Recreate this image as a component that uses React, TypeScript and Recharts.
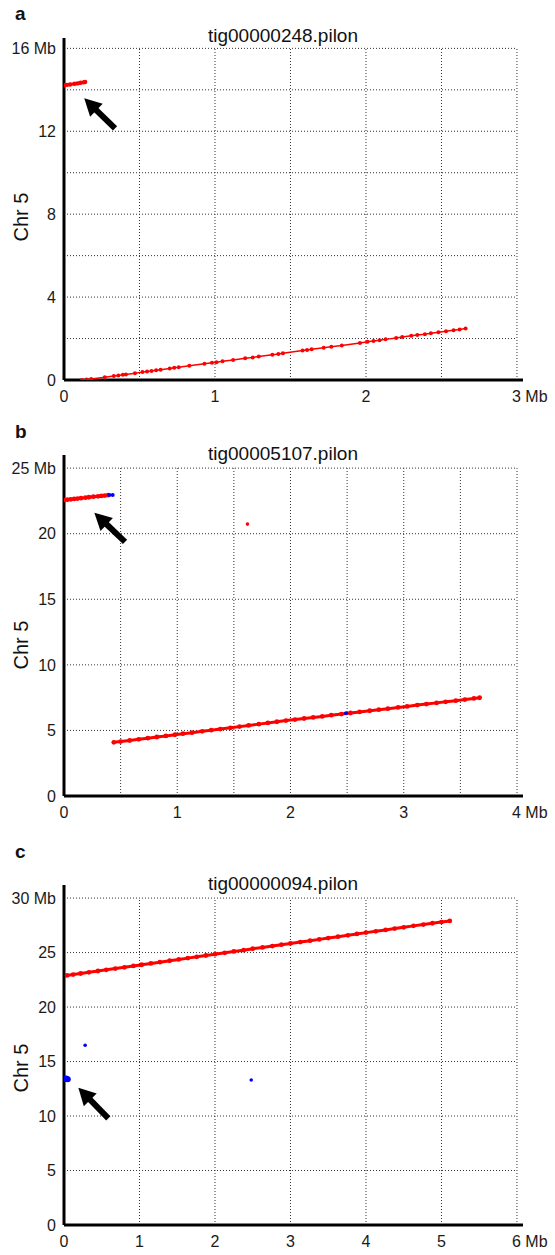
import React from "react";
import { ScatterChart, Scatter, XAxis, YAxis, ReferenceLine } from "recharts";

type Pt = { x: number; y: number };
const pts = (arr: number[][]): Pt[] => arr.map(([x, y]) => ({ x, y }));

const RED = "#ff0000";
const BLUE = "#0000ff";
const FONT = "'Liberation Sans', Arial, sans-serif";

// ---- panel a ----
const aTitle = "tig00000248.pilon";
const aXTicks = [0, 1, 2, 3];
const aYTicks = [0, 4, 8, 12, 16];
const aXGrid = [0.5, 1, 1.5, 2, 2.5, 3];
const aYGrid = [2, 4, 6, 8, 10, 12, 14, 16];
const aRedTop = pts([
  [0.0, 14.22], [0.02, 14.24], [0.04, 14.26], [0.07, 14.29], [0.09, 14.31],
  [0.11, 14.34], [0.13, 14.36], [0.14, 14.38],
]);
const aRedMain = pts([
  [0.12, 0.0], [0.15, 0.02], [0.18, 0.05], [0.27, 0.13], [0.33, 0.19], [0.36, 0.22],
  [0.39, 0.25], [0.41, 0.27], [0.47, 0.33], [0.52, 0.38], [0.55, 0.41], [0.58, 0.44],
  [0.61, 0.47], [0.64, 0.5], [0.7, 0.56], [0.73, 0.59], [0.76, 0.62], [0.83, 0.69],
  [0.93, 0.78], [0.98, 0.83], [1.01, 0.86], [1.05, 0.9], [1.12, 0.97], [1.2, 1.05],
  [1.25, 1.09], [1.29, 1.13], [1.38, 1.22], [1.42, 1.26], [1.45, 1.29], [1.58, 1.42],
  [1.61, 1.45], [1.64, 1.48], [1.72, 1.56], [1.77, 1.6], [1.84, 1.67], [1.96, 1.79],
  [2.01, 1.84], [2.05, 1.88], [2.09, 1.92], [2.13, 1.96], [2.2, 2.03], [2.24, 2.07],
  [2.3, 2.13], [2.34, 2.17], [2.39, 2.21], [2.43, 2.25], [2.48, 2.3], [2.53, 2.35],
  [2.58, 2.4], [2.62, 2.44], [2.66, 2.48],
]);
const aArrow = pts([[0.134, 13.59], [0.338, 12.14]]);

// ---- panel b ----
const bTitle = "tig00005107.pilon";
const bXTicks = [0, 1, 2, 3, 4];
const bYTicks = [0, 5, 10, 15, 20, 25];
const bXGrid = [0.5, 1, 1.5, 2, 2.5, 3, 3.5, 4];
const bYGrid = [5, 10, 15, 20, 25];
const bRedTop = pts([
  [0, 22.56], [0.03, 22.59], [0.06, 22.62], [0.09, 22.65], [0.12, 22.68], [0.15, 22.71],
  [0.19, 22.75], [0.22, 22.78], [0.26, 22.82], [0.3, 22.85], [0.33, 22.88], [0.36, 22.91],
  [0.39, 22.94],
]);
const bBlueTop = pts([[0.4, 22.95], [0.43, 22.95]]);
const bRedSingle = pts([[1.62, 20.73]]);
const bRedMain = pts([
  [0.44, 4.09], [0.5, 4.15], [0.58, 4.23], [0.66, 4.32], [0.74, 4.41], [0.82, 4.5],
  [0.9, 4.58], [0.98, 4.67], [1.05, 4.75], [1.13, 4.83], [1.22, 4.93], [1.3, 5.02],
  [1.38, 5.1], [1.47, 5.2], [1.55, 5.29], [1.63, 5.38], [1.72, 5.48], [1.8, 5.57],
  [1.88, 5.66], [1.96, 5.75], [2.04, 5.83], [2.12, 5.91], [2.2, 5.99], [2.28, 6.07],
  [2.36, 6.16], [2.45, 6.25], [2.53, 6.33], [2.61, 6.41], [2.7, 6.5], [2.78, 6.58],
  [2.86, 6.66], [2.95, 6.75], [3.03, 6.83], [3.12, 6.93], [3.2, 7.01], [3.29, 7.1],
  [3.37, 7.18], [3.46, 7.27], [3.54, 7.35], [3.62, 7.44], [3.67, 7.49],
]);
const bBlueMain = pts([[2.49, 6.3]]);
const bArrow = pts([[0.268, 21.6], [0.539, 19.38]]);

// ---- panel c ----
const cTitle = "tig00000094.pilon";
const cXTicks = [0, 1, 2, 3, 4, 5, 6];
const cYTicks = [0, 5, 10, 15, 20, 25, 30];
const cXGrid = [1, 2, 3, 4, 5, 6];
const cYGrid = [5, 10, 15, 20, 25, 30];
const cRedMain = pts([
  [0.04, 22.9], [0.12, 22.98], [0.22, 23.08], [0.33, 23.19], [0.45, 23.31], [0.56, 23.42],
  [0.68, 23.53], [0.8, 23.65], [0.92, 23.77], [1.03, 23.88], [1.15, 24.0], [1.27, 24.12],
  [1.4, 24.25], [1.52, 24.37], [1.64, 24.49], [1.76, 24.61], [1.88, 24.73], [2.0, 24.85],
  [2.13, 24.98], [2.25, 25.1], [2.38, 25.22], [2.5, 25.35], [2.63, 25.47], [2.76, 25.6],
  [2.88, 25.72], [3.0, 25.84], [3.13, 25.96], [3.26, 26.09], [3.38, 26.21], [3.5, 26.33],
  [3.63, 26.46], [3.76, 26.58], [3.88, 26.71], [4.0, 26.83], [4.13, 26.95], [4.26, 27.08],
  [4.38, 27.2], [4.5, 27.32], [4.63, 27.45], [4.76, 27.57], [4.88, 27.69], [5.0, 27.8],
  [5.11, 27.9],
]);
const cBlueCluster = pts([[0.02, 13.4], [0.03, 13.45], [0.05, 13.38]]);
const cBlueDots = pts([[0.28, 16.5], [2.48, 13.3]]);
const cArrow = pts([[0.19, 12.6], [0.587, 9.79]]);

const dot = (color: string, r: number) => (p: any) =>
  <circle cx={p.cx} cy={p.cy} r={r} fill={color} />;

const arrowShape = (p: any) => {
  const { x1, y1, x2, y2 } = p; // x1,y1 = tip
  const dx = x1 - x2;
  const dy = y1 - y2;
  const len = Math.sqrt(dx * dx + dy * dy) || 1;
  const ux = dx / len;
  const uy = dy / len;
  const H = 17;
  const W = 9;
  const bx = x1 - ux * H;
  const by = y1 - uy * H;
  return (
    <g>
      <line x1={x2} y1={y2} x2={bx + ux * 2} y2={by + uy * 2} stroke="#000" strokeWidth={6} />
      <polygon
        points={`${x1},${y1} ${bx - uy * W},${by + ux * W} ${bx + uy * W},${by - ux * W}`}
        fill="#000"
      />
    </g>
  );
};

type Series = { data: Pt[]; color: string; r: number; line?: number };

interface PanelProps {
  top: number;
  height: number;
  marginTop: number;
  letter: string;
  letterY: number;
  title: string;
  titleY: number;
  labelY: number;
  xMax: number;
  yMax: number;
  xTicks: number[];
  yTicks: number[];
  xGrid: number[];
  yGrid: number[];
  series: Series[];
  arrow: Pt[];
}

const Panel: React.FC<PanelProps> = (pp) => {
  const lastX = pp.xTicks[pp.xTicks.length - 1];
  const lastY = pp.yTicks[pp.yTicks.length - 1];
  const gridStyle = { stroke: "#333", strokeWidth: 1, strokeDasharray: "1 2" };

  const xTick = (p: any) => {
    const v = p.payload.value;
    if (v === lastX)
      return (
        <text x={p.x - 5} y={p.y} dy="0.71em" textAnchor="start" fontSize={16} fill="#1a1a1a" fontFamily={FONT}>
          {v} Mb
        </text>
      );
    return (
      <text x={p.x} y={p.y} dy="0.71em" textAnchor="middle" fontSize={16} fill="#1a1a1a" fontFamily={FONT}>
        {v}
      </text>
    );
  };
  const yTick = (p: any) => {
    const v = p.payload.value;
    return (
      <text x={p.x} y={p.y} dy="0.355em" textAnchor="end" fontSize={16} fill="#1a1a1a" fontFamily={FONT}>
        {v === lastY ? `${v} Mb` : v}
      </text>
    );
  };

  return (
    <div style={{ position: "absolute", left: 0, top: pp.top, width: 555, height: pp.height }}>
      <ScatterChart
        width={555}
        height={pp.height}
        margin={{ top: pp.marginTop, right: 32, bottom: 0, left: 0 }}
      >
        <XAxis
          type="number"
          dataKey="x"
          domain={[0, pp.xMax]}
          ticks={pp.xTicks}
          allowDataOverflow
          height={30}
          tickLine={false}
          tickMargin={5}
          axisLine={{ stroke: "#000", strokeWidth: 3 }}
          tick={xTick}
        />
        <YAxis
          type="number"
          dataKey="y"
          domain={[0, pp.yMax]}
          ticks={pp.yTicks}
          allowDataOverflow
          width={64}
          tickLine={false}
          axisLine={{ stroke: "#000", strokeWidth: 3 }}
          tick={yTick}
        />
        {pp.xGrid.map((v) => (
          <ReferenceLine
            key={`vx${v}`}
            segment={[{ x: v, y: 0 }, { x: v, y: lastY }]}
            {...gridStyle}
          />
        ))}
        {pp.yGrid.map((v) => (
          <ReferenceLine
            key={`hy${v}`}
            segment={[{ x: 0, y: v }, { x: lastX, y: v }]}
            {...gridStyle}
          />
        ))}
        {pp.series.map((s, i) => (
          <Scatter
            key={i}
            data={s.data}
            fill={s.color}
            line={s.line ? { stroke: s.color, strokeWidth: s.line } : false}
            shape={dot(s.color, s.r)}
            isAnimationActive={false}
          />
        ))}
        <ReferenceLine
          segment={[pp.arrow[0], pp.arrow[1]]}
          shape={arrowShape}
          stroke="#000"
        />
      </ScatterChart>
      <svg
        width={555}
        height={pp.height}
        style={{ position: "absolute", left: 0, top: 0, pointerEvents: "none" }}
      >
        <text x={15} y={pp.letterY} fontSize={19} fontWeight="bold" fill="#111" fontFamily={FONT}>
          {pp.letter}
        </text>
        <text x={283} y={pp.titleY} fontSize={19} textAnchor="middle" fill="#111" fontFamily={FONT}>
          {pp.title}
        </text>
        <text
          x={28}
          y={pp.labelY}
          fontSize={20}
          textAnchor="middle"
          fill="#111"
          fontFamily={FONT}
          transform={`rotate(-90 28 ${pp.labelY})`}
        >
          Chr 5
        </text>
      </svg>
    </div>
  );
};

export default function App() {
  return (
    <div style={{ position: "absolute", left: 0, top: 0, width: 555, height: 1255, background: "#fff" }}>
      <Panel
        top={0}
        height={410}
        marginTop={38}
        letter="a"
        letterY={20}
        title={aTitle}
        titleY={41.5}
        labelY={217}
        xMax={3.04}
        yMax={16.5}
        xTicks={aXTicks}
        yTicks={aYTicks}
        xGrid={aXGrid}
        yGrid={aYGrid}
        series={[
          { data: aRedMain, color: RED, r: 2, line: 1.5 },
          { data: aRedTop, color: RED, r: 2.2, line: 3 },
        ]}
        arrow={aArrow}
      />
      <Panel
        top={420}
        height={406}
        marginTop={35}
        letter="b"
        letterY={18}
        title={bTitle}
        titleY={40}
        labelY={225}
        xMax={4.053}
        yMax={26}
        xTicks={bXTicks}
        yTicks={bYTicks}
        xGrid={bXGrid}
        yGrid={bYGrid}
        series={[
          { data: bRedMain, color: RED, r: 2.4, line: 3 },
          { data: bRedTop, color: RED, r: 2.4, line: 3 },
          { data: bRedSingle, color: RED, r: 1.8 },
          { data: bBlueTop, color: BLUE, r: 2 },
          { data: bBlueMain, color: BLUE, r: 2 },
        ]}
        arrow={bArrow}
      />
      <Panel
        top={840}
        height={415}
        marginTop={45}
        letter="c"
        letterY={18}
        title={cTitle}
        titleY={49.5}
        labelY={228}
        xMax={6.08}
        yMax={31.2}
        xTicks={cXTicks}
        yTicks={cYTicks}
        xGrid={cXGrid}
        yGrid={cYGrid}
        series={[
          { data: cRedMain, color: RED, r: 2.4, line: 3 },
          { data: cBlueCluster, color: BLUE, r: 3 },
          { data: cBlueDots, color: BLUE, r: 1.8 },
        ]}
        arrow={cArrow}
      />
    </div>
  );
}
